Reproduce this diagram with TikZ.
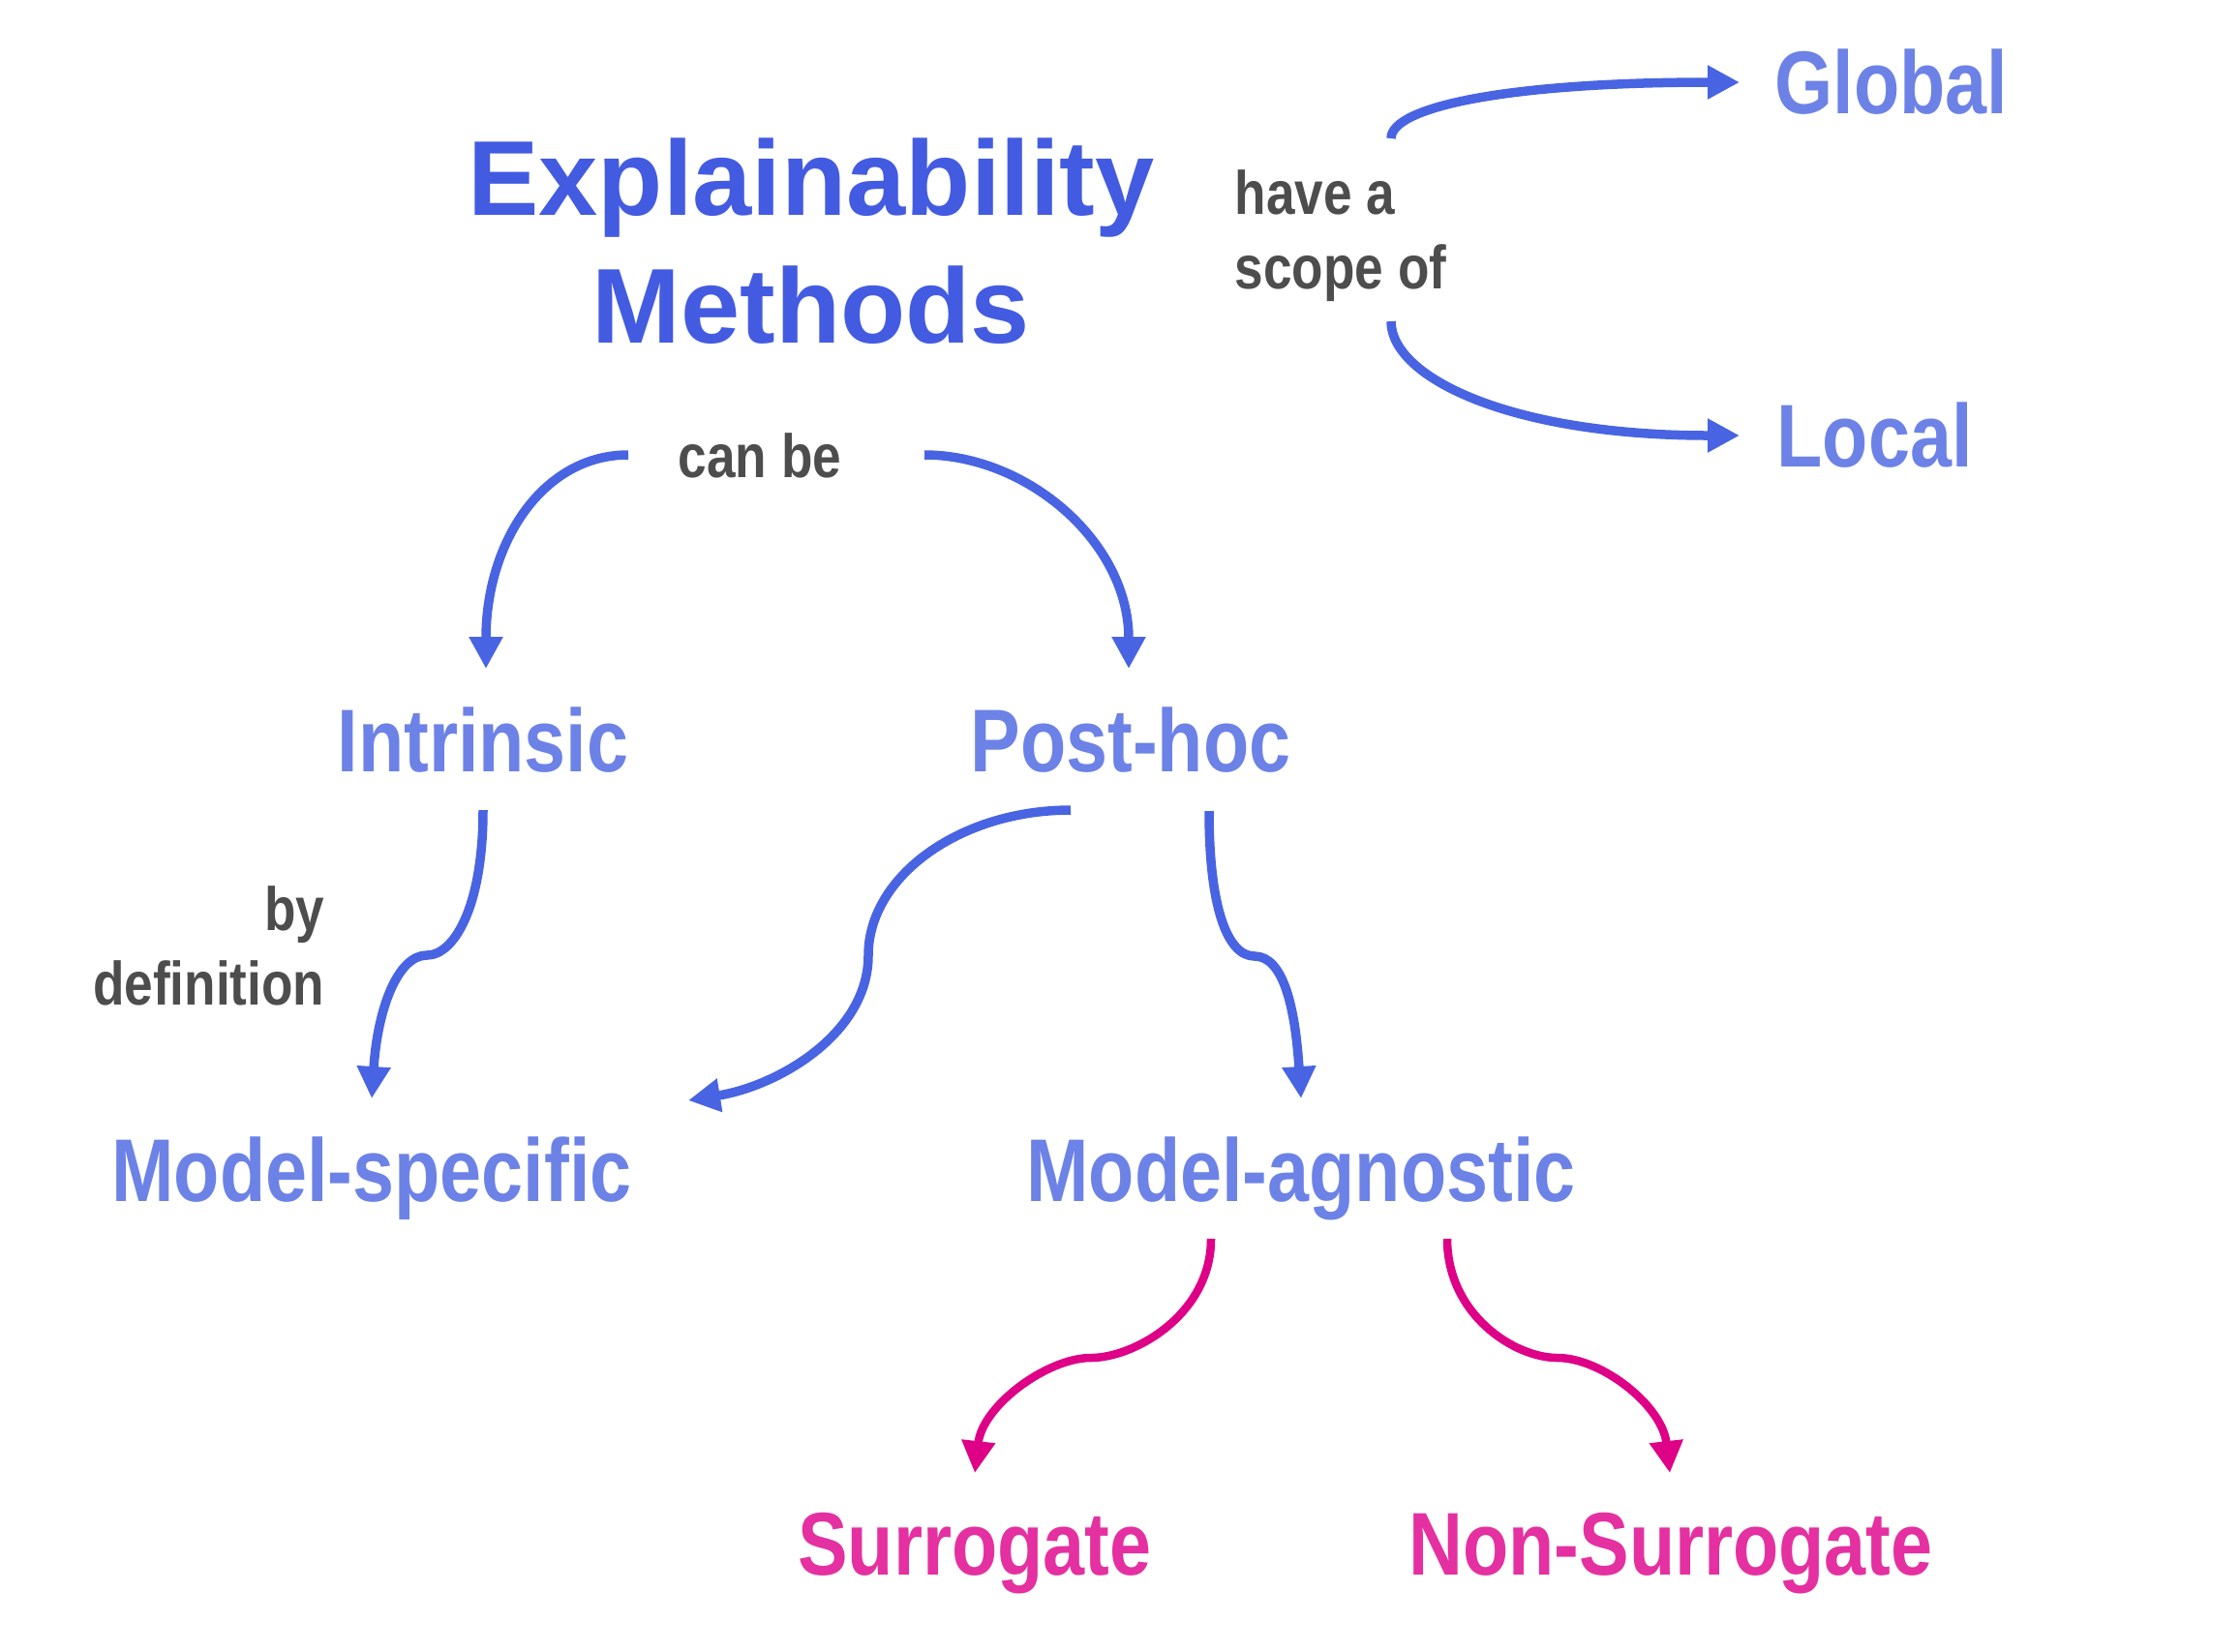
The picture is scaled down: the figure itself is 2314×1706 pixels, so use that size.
\documentclass[tikz,border=0pt]{standalone}
\usepackage{fontspec}
\setmainfont{Liberation Sans}
\newfontfamily\narrowsans{Liberation Sans}[FakeStretch=0.84]
\usepackage{tikz}
\usetikzlibrary{arrows.meta,calc}

\definecolor{titleblue}{RGB}{67,91,225}
\definecolor{nodeblue}{RGB}{108,130,230}
\definecolor{arrowblue}{RGB}{72,100,226}
\definecolor{linkmagenta}{RGB}{222,0,135}
\definecolor{leafmagenta}{RGB}{228,48,160}
\definecolor{labelgray}{RGB}{77,77,77}

\begin{document}
\begin{tikzpicture}[x=0.1mm,y=-0.1mm,
  headline/.style={font=\bfseries\fontsize{31.3pt}{37.5pt}\selectfont,text=titleblue,inner sep=0pt,align=center},
  concept/.style={font=\narrowsans\bfseries\fontsize{26.2pt}{31pt}\selectfont,text=nodeblue,inner sep=0pt},
  leaf/.style={concept,text=leafmagenta},
  linklabel/.style={font=\narrowsans\bfseries\fontsize{18pt}{21.7pt}\selectfont,text=labelgray,inner sep=0pt},
  link/.style={-{Triangle[length=3.3mm,width=3.3mm]},line width=0.95mm,draw=arrowblue},
  sublink/.style={link,draw=linkmagenta,line width=0.85mm}]
  \useasboundingbox (0,0) rectangle (2314,1706);

  \node[headline,anchor=base] (expl) at (838,354) {Explainability\\Methods};
  \node[linklabel,align=left,anchor=base west] (scope) at (1275,298) {have a\\scope of};
  \node[concept,anchor=base west] (global) at (1833,117) {Global};
  \node[concept,anchor=base west] (local) at (1835,482) {Local};
  \node[linklabel,anchor=base] (canbe) at (785,493) {can be};
  \node[concept,anchor=base] (intr) at (499,797) {Intrinsic};
  \node[concept,anchor=base] (posthoc) at (1168,797) {Post-hoc};
  \node[linklabel,align=right,anchor=base east] (bydef) at (336,1038) {by\\definition};
  \node[concept,anchor=base] (mspec) at (384,1241) {Model-specific};
  \node[concept,anchor=base] (magn) at (1344,1241) {Model-agnostic};
  \node[leaf,anchor=base] (surr) at (1007,1627) {Surrogate};
  \node[leaf,anchor=base] (nonsurr) at (1726,1627) {Non-Surrogate};

  \draw[link] ($(scope.base west)+(162,-155)$) .. controls +(0,-33) and +(-237,0) .. ($(global.base west)+(-36,-32)$);
  \draw[link] ($(scope.base west)+(162,34)$) .. controls +(0,58) and +(-237,0) .. ($(local.base west)+(-38,-32)$);

  \draw[link] ($(canbe.base)+(-136,-23)$) .. controls +(-88,0) and +(0,-131) .. ($(intr.base)+(3,-106)$);
  \draw[link] ($(canbe.base)+(170,-23)$) .. controls +(106,0) and +(0,-131) .. ($(posthoc.base)+(-2,-106)$);

  \draw[link] ($(intr.base)+(0,40)$) .. controls +(0,100) and +(28,0) .. ($(intr.base)+(-58,190)$)
    .. controls +(-30,0) and +(6,-93) .. ($(mspec.base)+(0,-106)$);
  \draw[link] ($(posthoc.base)+(-62,40)$) .. controls +(-115,0) and +(0,-81) .. ($(posthoc.base)+(-271,190)$)
    .. controls +(0,81) and +(93,-15) .. ($(mspec.base)+(327,-104)$);
  \draw[link] ($(posthoc.base)+(81,41)$) .. controls +(0,100) and +(-28,0) .. ($(posthoc.base)+(128,191)$)
    .. controls +(30,0) and +(-6,-93) .. ($(magn.base)+(0,-106)$);

  \draw[sublink] ($(magn.base)+(-93,39)$) .. controls +(0,78) and +(45,0) .. ($(magn.base)+(-217,162)$)
    .. controls +(-45,0) and +(8,-70) .. ($(surr.base)+(0,-105)$);
  \draw[sublink] ($(magn.base)+(151,39)$) .. controls +(0,78) and +(-45,0) .. ($(magn.base)+(265,162)$)
    .. controls +(45,0) and +(-8,-70) .. ($(nonsurr.base)+(-1,-105)$);
\end{tikzpicture}
\end{document}
